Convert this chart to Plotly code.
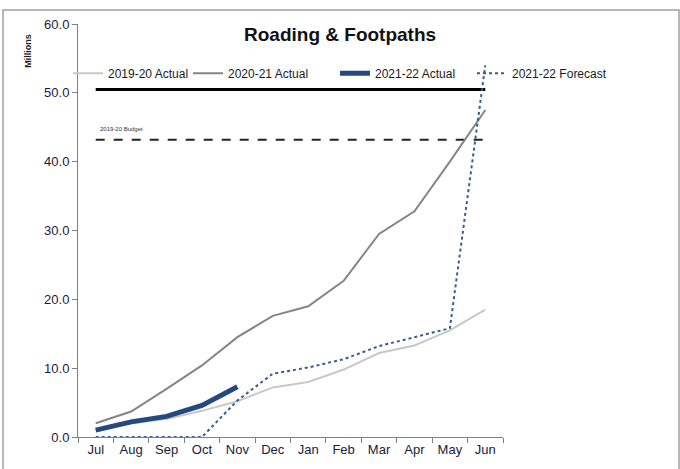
import plotly.graph_objects as go

months = ["Jul", "Aug", "Sep", "Oct", "Nov", "Dec", "Jan", "Feb", "Mar", "Apr", "May", "Jun"]
actual_1920 = [1.0, 2.0, 2.6, 3.8, 5.2, 7.2, 8.0, 9.8, 12.2, 13.3, 15.5, 18.5]
actual_2021 = [2.0, 3.7, 7.0, 10.4, 14.5, 17.6, 19.0, 22.7, 29.5, 32.8, 40.0, 47.5]
actual_2122 = [1.0, 2.2, 3.0, 4.6, 7.3]
forecast_2122 = [0.0, 0.0, 0.0, 0.0, 5.3, 9.2, 10.1, 11.3, 13.2, 14.5, 15.8, 54.0]
budget_level = 50.5
budget_1920 = 43.2

FONT = "Liberation Sans, Arial, sans-serif"
NAVY = "#24497f"

L, R, T, B = 78, 503, 24, 440
W, H = 680, 469

def px_x(p):
    return (p - L) / (R - L)

def px_y(p):
    return (B - p) / (B - T)

fig = go.Figure()
fig.add_trace(go.Scatter(x=months, y=[budget_level] * len(months), mode="lines",
                         line=dict(color="black", width=3), showlegend=False, hoverinfo="skip"))
fig.add_trace(go.Scatter(x=months, y=[budget_1920] * len(months), mode="lines",
                         line=dict(color="#222222", width=2, dash="dash"), showlegend=False, hoverinfo="skip"))
fig.add_trace(go.Scatter(x=months, y=actual_1920, mode="lines", name="2019-20 Actual",
                         line=dict(color="#c8c8c8", width=2), legend="legend"))
fig.add_trace(go.Scatter(x=months, y=actual_2021, mode="lines", name="2020-21 Actual",
                         line=dict(color="#858585", width=2), legend="legend2"))
fig.add_trace(go.Scatter(x=months[:len(actual_2122)], y=actual_2122, mode="lines", name="2021-22 Actual",
                         line=dict(color=NAVY, width=5), legend="legend3"))
fig.add_trace(go.Scatter(x=months, y=forecast_2122, mode="lines", name="2021-22 Forecast",
                         line=dict(color="#3a5a95", width=2, dash="dot"), legend="legend4"))

def leg(xpx):
    return dict(orientation="h", x=px_x(xpx), y=px_y(59), xanchor="left", yanchor="top",
                bgcolor="rgba(0,0,0,0)", font=dict(size=12, color="#1a1a1a", family=FONT),
                itemwidth=30)

fig.update_layout(
    width=W, height=H,
    margin=dict(l=L, r=W - R, t=T, b=H - B),
    paper_bgcolor="white", plot_bgcolor="white",
    font=dict(family=FONT, size=12, color="#1a1a1a"),
    showlegend=True,
    legend=leg(68), legend2=leg(188), legend3=leg(335), legend4=leg(472),
    xaxis=dict(type="category", range=[-0.5, 11.5], tickson="boundaries", ticks="outside",
               ticklen=5, tickcolor="#808080", showline=True, linecolor="#808080", linewidth=1,
               showgrid=False, zeroline=False, tickfont=dict(size=13, color="#1a1a3a")),
    yaxis=dict(range=[0, 60], dtick=10, tickformat=".1f", ticks="outside", ticklen=5,
               tickcolor="#808080", showline=True, linecolor="#808080", linewidth=1,
               showgrid=False, zeroline=False, tickfont=dict(size=13, color="#1a1a3a")),
    annotations=[
        dict(text="<b>Roading & Footpaths</b>", x=px_x(340), y=px_y(35), xref="paper", yref="paper",
             xanchor="center", yanchor="middle",
             showarrow=False, font=dict(size=19, color="#111111")),
        dict(text="<b>Millions</b>", x=px_x(28), y=px_y(51), xref="paper", yref="paper",
             xanchor="center", yanchor="middle",
             showarrow=False, textangle=-90, font=dict(size=9, color="#222222")),
        dict(text="2019-20 Budget", x=px_x(98), y=px_y(130), xref="paper", yref="paper",
             xanchor="left", yanchor="middle", showarrow=False, font=dict(size=6, color="#333333")),
    ],
    shapes=[
        dict(type="rect", xref="paper", yref="paper", x0=px_x(3), x1=px_x(679), y0=px_y(480), y1=px_y(10),
             line=dict(color="#a0a0a0", width=1.5), fillcolor="rgba(0,0,0,0)", layer="below"),
    ],
)

fig.write_html("out.html", config={"displayModeBar": False})
with open("out.html", "r", encoding="utf-8") as f:
    html = f.read()
html = html.replace("<head>", "<head><style>html,body{margin:0;padding:0;overflow:hidden;}</style>", 1)
with open("out.html", "w", encoding="utf-8") as f:
    f.write(html)
